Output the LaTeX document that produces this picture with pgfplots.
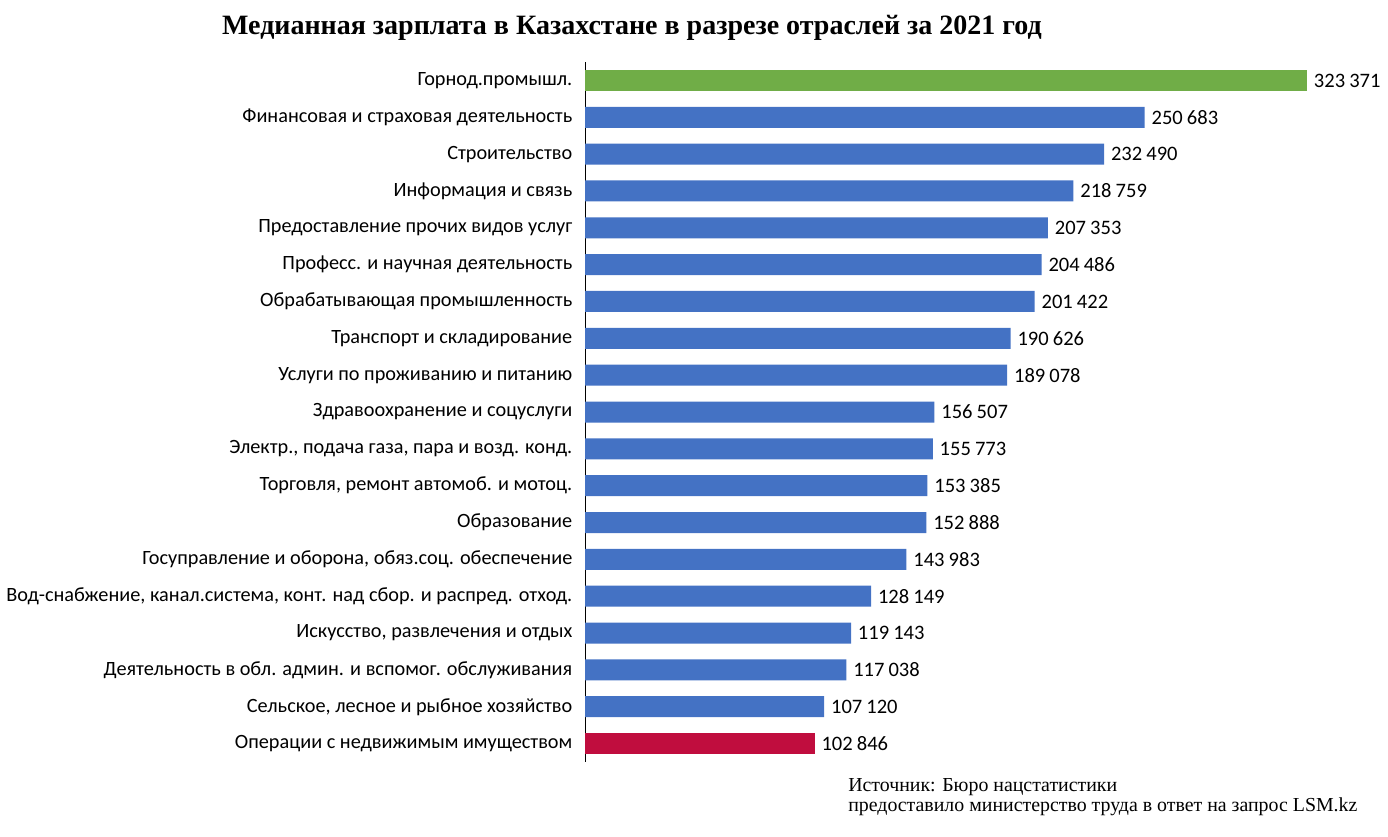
\documentclass[border=0pt]{standalone}
\usepackage{pgfplots}
\pgfplotsset{compat=1.18}
\usepackage{pgfplotstable}
\usepackage{fontspec}
\setmainfont{Liberation Serif}
\newfontfamily\lbl{Carlito}
\definecolor{barblue}{HTML}{4472C4}
\definecolor{bargreen}{HTML}{70AD47}
\definecolor{barred}{HTML}{C00D3E}

% y = позиция сверху вниз, x = медианная зарплата, тенге
\pgfplotstableread{
y x
0 323371
}\topbar
\pgfplotstableread{
y x
1 250683
2 232490
3 218759
4 207353
5 204486
6 201422
7 190626
8 189078
9 156507
10 155773
11 153385
12 152888
13 143983
14 128149
15 119143
16 117038
17 107120
}\midbars
\pgfplotstableread{
y x
18 102846
}\lowbar

\begin{document}
\begin{tikzpicture}
\useasboundingbox (0,0) rectangle (1041pt,627pt);
\begin{axis}[
    at={(438.75pt,55.5pt)}, anchor=south west,
    scale only axis,
    width=541.5pt, height=525pt,
    xbar, bar width=15.75pt, bar shift=0pt,
    xmin=0, xmax=323371,
    ymin=-0.5, ymax=18.5, y dir=reverse,
    axis x line=none,
    axis y line*=left,
    axis line style={-, black, line width=0.6pt},
    ytick={0,...,18},
    major tick length=0pt,
    yticklabel style={font=\lbl\fontsize{15.2}{17}\selectfont, xshift=-6pt},
    yticklabels={
        {Горнод.промышл.},
        {Финансовая и страховая деятельность},
        {Строительство},
        {Информация и связь},
        {Предоставление прочих видов услуг},
        {Професс. и научная деятельность},
        {Обрабатывающая промышленность},
        {Транспорт и складирование},
        {Услуги по проживанию и питанию},
        {Здравоохранение и соцуслуги},
        {Электр., подача газа, пара и возд. конд.},
        {Торговля, ремонт автомоб. и мотоц.},
        {Образование},
        {Госуправление и оборона, обяз.соц. обеспечение},
        {Вод-снабжение, канал.система, конт. над сбор. и распред. отход.},
        {Искусство, развлечения и отдых},
        {Деятельность в обл. админ. и вспомог. обслуживания},
        {Сельское, лесное и рыбное хозяйство},
        {Операции с недвижимым имуществом}},
    nodes near coords,
    nodes near coords style={font=\lbl\fontsize{15.4}{17}\selectfont, inner sep=2pt, xshift=3pt,
        /pgf/number format/.cd, fixed, precision=0, 1000 sep={\hspace{0.2em}}, assume math mode=true},
    clip=false,
]
\addplot[draw=none, fill=bargreen] table[x=x, y=y] {\topbar};
\addplot[draw=none, fill=barblue] table[x=x, y=y] {\midbars};
\addplot[draw=none, fill=barred] table[x=x, y=y] {\lowbar};
\end{axis}
\node[font=\bfseries\fontsize{21}{24}\selectfont] at (474pt,606pt)
    {Медианная зарплата в Казахстане в разрезе отраслей за 2021 год};
\node[anchor=base west, inner sep=0pt, font=\fontsize{14.9}{17}\selectfont] at (636pt,33.75pt)
    {Источник: Бюро нацстатистики};
\node[anchor=base west, inner sep=0pt, font=\fontsize{14.9}{17}\selectfont] at (636pt,18.75pt)
    {предоставило министерство труда в ответ на запрос LSM.kz};
\end{tikzpicture}
\end{document}
